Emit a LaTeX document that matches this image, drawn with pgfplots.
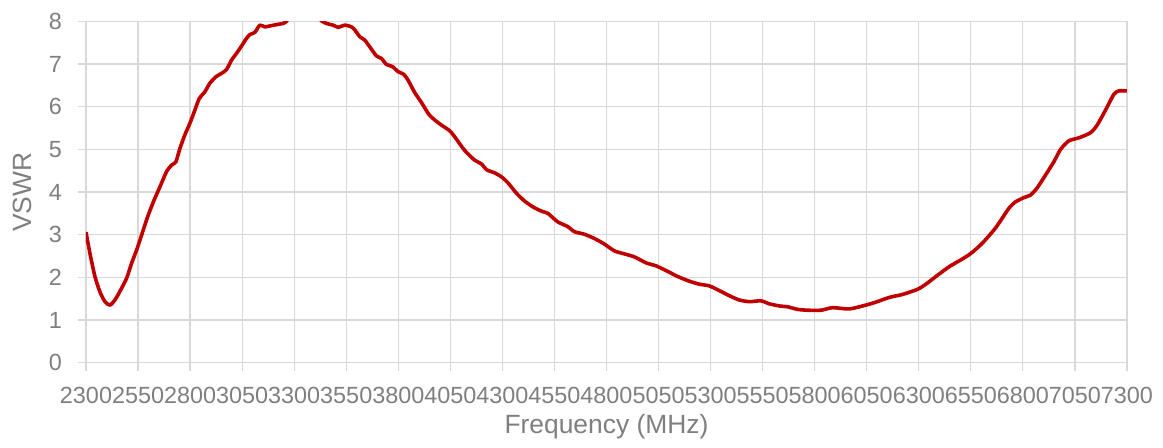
\documentclass[border=0pt]{standalone}
\usepackage{fontspec}
\setmainfont{Liberation Sans}
\usepackage{pgfplots}
\pgfplotsset{compat=1.18}

\definecolor{txtgray}{HTML}{7F7F7F}
\definecolor{gridgray}{HTML}{D9D9D9}
\definecolor{vswrred}{HTML}{C00000}

\begin{document}
\begin{tikzpicture}
\begin{axis}[
    name=ax,
    scale only axis,
    width=520.5pt, height=170.7pt,
    xmin=2300, xmax=7300,
    ymin=0, ymax=8,
    clip=true,
    xtick={2300,2550,...,7300},
    ytick={0,1,...,8},
    /pgf/number format/1000 sep={},
    /pgf/number format/assume math mode=true,
    grid=major,
    major grid style={gridgray, line width=0.6pt},
    axis line style={gridgray, line width=0.6pt},
    tick style={gridgray, line width=0.6pt},
    tick align=outside,
    major tick length=4pt,
    xtick pos=bottom, ytick pos=left,
    ticklabel style={txtgray, font=\fontsize{11.7}{14}\selectfont},
    xticklabel style={yshift=-4.5pt},
    yticklabel style={xshift=-4.5pt},
    xlabel={Frequency (MHz)},
    ylabel={VSWR},
    every axis x label/.style={at={(rel axis cs:0.5,0)}, anchor=base, yshift=-35.2pt,
        txtgray, font=\fontsize{13.2}{16}\selectfont},
    every axis y label/.style={at={(rel axis cs:0,0.5)}, xshift=-32pt, rotate=90, anchor=center,
        txtgray, font=\fontsize{13.2}{16}\selectfont},
]
% measured VSWR curve, read off the reference; it leaves the top of the chart
% between about 3265 and 3430 MHz, so it is drawn as two pieces
\addplot[vswrred, line width=1.8pt, smooth, tension=0.4, line join=round] coordinates {
(2300,3.06) (2319,2.56) (2343,2.02) (2367,1.66) (2391,1.43) (2415,1.35)
(2439,1.47) (2466,1.70) (2495,1.98) (2519,2.33) (2546,2.68) (2575,3.11)
(2599,3.46) (2627,3.81) (2655,4.12) (2687,4.48) (2711,4.63) (2732,4.71)
(2751,5.02) (2775,5.34) (2799,5.61) (2823,5.92) (2844,6.19) (2871,6.35)
(2895,6.55) (2924,6.70) (2951,6.78) (2975,6.87) (2999,7.09) (3023,7.25)
(3047,7.42) (3068,7.58) (3087,7.69) (3111,7.74) (3135,7.91) (3159,7.87)
(3191,7.90) (3223,7.93) (3247,7.95) (3263,8.00) (3275,8.10)
};
\addplot[vswrred, line width=1.8pt, smooth, tension=0.4, line join=round] coordinates {
(3420,8.10) (3431,8.01) (3455,7.95) (3487,7.91) (3511,7.86) (3543,7.91)
(3575,7.87) (3591,7.80) (3615,7.64) (3639,7.56) (3663,7.40) (3695,7.19)
(3719,7.13) (3743,6.99) (3772,6.94) (3799,6.82) (3826,6.76) (3847,6.62)
(3879,6.33) (3911,6.10) (3950,5.80) (3998,5.60) (4046,5.44) (4070,5.30)
(4118,4.98) (4166,4.75) (4199,4.66) (4225,4.52) (4262,4.45) (4294,4.36)
(4326,4.22) (4366,3.98) (4406,3.79) (4454,3.63) (4494,3.54) (4518,3.50)
(4566,3.30) (4614,3.19) (4646,3.07) (4694,3.01) (4742,2.91) (4790,2.78)
(4838,2.62) (4886,2.55) (4934,2.48) (4990,2.34) (5038,2.27) (5086,2.16)
(5142,2.02) (5198,1.91) (5246,1.84) (5294,1.80) (5342,1.69) (5390,1.57)
(5438,1.47) (5486,1.43) (5542,1.45) (5582,1.38) (5630,1.33) (5670,1.31)
(5718,1.25) (5766,1.23) (5830,1.23) (5886,1.29) (5966,1.26) (6046,1.35)
(6094,1.42) (6158,1.53) (6222,1.60) (6294,1.72) (6334,1.84) (6390,2.05)
(6446,2.25) (6502,2.41) (6550,2.56) (6605,2.80) (6669,3.16) (6733,3.62)
(6765,3.77) (6805,3.87) (6837,3.93) (6869,4.10) (6909,4.40) (6949,4.71)
(6981,5.00) (7021,5.20) (7069,5.27) (7125,5.39) (7157,5.57) (7197,5.92)
(7237,6.29) (7261,6.37) (7300,6.37)
};
\end{axis}
\pgfresetboundingbox
\path (ax.south west) ++(-43pt,-42.15pt) rectangle ++(581.5pt,223.5pt);
\end{tikzpicture}
\end{document}
